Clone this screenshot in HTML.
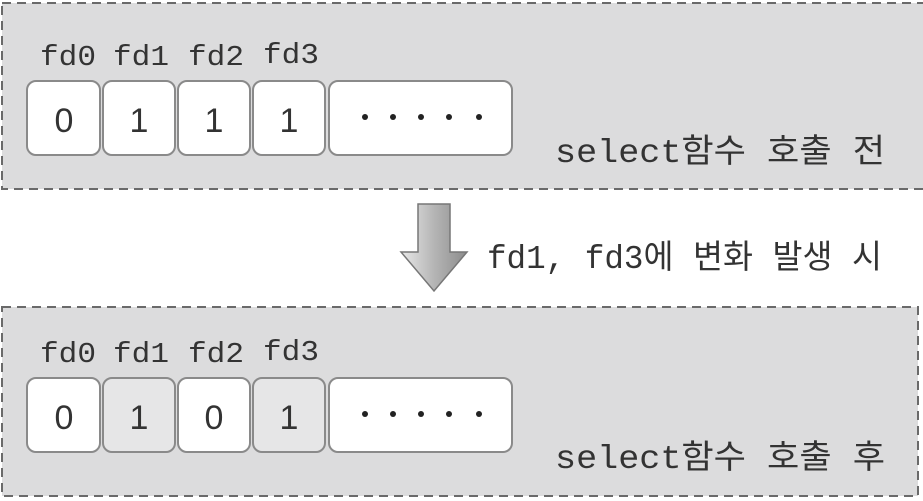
<!DOCTYPE html>
<html><head><meta charset="utf-8"><style>html,body{margin:0;padding:0;background:#fff;}svg{display:block}</style></head>
<body>
<svg width="923" height="501" viewBox="0 0 923 501" xmlns="http://www.w3.org/2000/svg">
<defs>
<linearGradient id="ag" x1="0" y1="0" x2="1" y2="0">
<stop offset="0" stop-color="#e8e8e8"/><stop offset="0.5" stop-color="#b5b5b5"/><stop offset="1" stop-color="#8c8c8c"/>
</linearGradient>
</defs>
<rect x="2" y="3" width="930" height="186" fill="#dcdcdd" stroke="#6a6a6a" stroke-width="2" stroke-dasharray="9,6"/>
<rect x="2" y="307" width="916" height="189" fill="#dcdcdd" stroke="#6a6a6a" stroke-width="2" stroke-dasharray="9,6"/>
<g font-family="Liberation Mono, monospace" font-size="29" fill="#333">
<text x="40" y="65" textLength="56" lengthAdjust="spacingAndGlyphs">fd0</text>
<text x="113" y="65" textLength="56" lengthAdjust="spacingAndGlyphs">fd1</text>
<text x="188" y="65" textLength="56" lengthAdjust="spacingAndGlyphs">fd2</text>
<text x="263" y="63" textLength="56" lengthAdjust="spacingAndGlyphs">fd3</text>
<text x="40" y="362" textLength="56" lengthAdjust="spacingAndGlyphs">fd0</text>
<text x="113" y="362" textLength="56" lengthAdjust="spacingAndGlyphs">fd1</text>
<text x="188" y="362" textLength="56" lengthAdjust="spacingAndGlyphs">fd2</text>
<text x="263" y="360" textLength="56" lengthAdjust="spacingAndGlyphs">fd3</text>
</g>
<g stroke="#8a8a8a" stroke-width="2">
<rect x="27" y="81" width="73" height="74" rx="9" fill="#fff"/>
<rect x="103" y="81" width="72" height="74" rx="9" fill="#fff"/>
<rect x="178" y="81" width="72" height="74" rx="9" fill="#fff"/>
<rect x="253" y="81" width="72" height="74" rx="9" fill="#fff"/>
<rect x="329" y="81" width="183" height="74" rx="9" fill="#fff"/>
<rect x="27" y="378" width="73" height="74" rx="9" fill="#fff"/>
<rect x="103" y="378" width="72" height="74" rx="9" fill="#e6e6e7"/>
<rect x="178" y="378" width="72" height="74" rx="9" fill="#fff"/>
<rect x="253" y="378" width="72" height="74" rx="9" fill="#e6e6e7"/>
<rect x="329" y="378" width="183" height="74" rx="9" fill="#fff"/>
</g>
<g font-family="Liberation Sans, sans-serif" font-size="34" fill="#333" text-anchor="middle">
<text x="64" y="132">0</text><text x="139" y="132">1</text><text x="214" y="132">1</text><text x="289" y="132">1</text>
<text x="64" y="429">0</text><text x="139" y="429">1</text><text x="214" y="429">0</text><text x="289" y="429">1</text>
</g>
<g fill="#222">
<circle cx="365" cy="117" r="3"/><circle cx="393" cy="117" r="3"/><circle cx="421" cy="117" r="3"/><circle cx="449" cy="117" r="3"/><circle cx="479" cy="117" r="3"/>
<circle cx="365" cy="414" r="3"/><circle cx="393" cy="414" r="3"/><circle cx="421" cy="414" r="3"/><circle cx="449" cy="414" r="3"/><circle cx="479" cy="414" r="3"/>
</g>
<g font-family="Liberation Mono, 'Noto Sans CJK KR', monospace" font-size="33" fill="#333">
<text x="555" y="162" textLength="330" lengthAdjust="spacingAndGlyphs">select함수 호출 전</text>
<text x="555" y="468" textLength="330" lengthAdjust="spacingAndGlyphs">select함수 호출 후</text>
<text x="487" y="268" textLength="395" lengthAdjust="spacingAndGlyphs">fd1, fd3에 변화 발생 시</text>
</g>
<polygon points="418,204 450,204 450,252 467,252 434,291 401,252 418,252" fill="url(#ag)" stroke="#777" stroke-width="1.5"/>
</svg>
</body></html>
